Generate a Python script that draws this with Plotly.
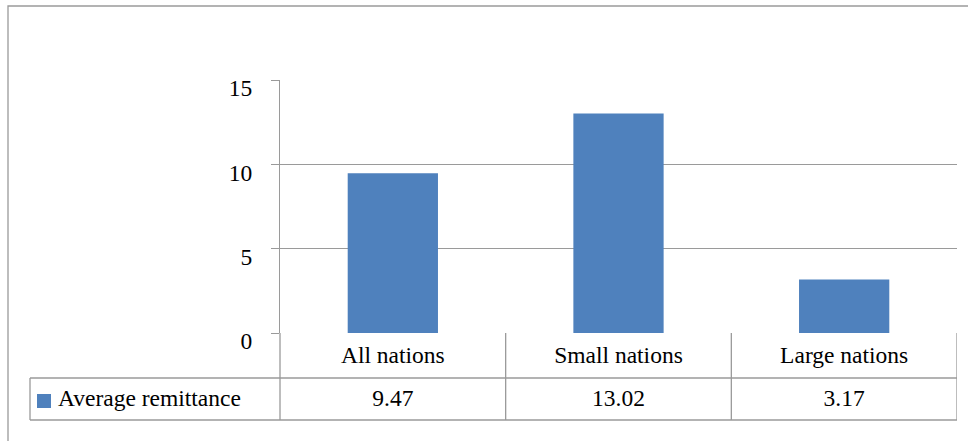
import plotly.graph_objects as go

# Chart data
categories = ["All nations", "Small nations", "Large nations"]
series_name = "Average remittance"
values = [9.47, 13.02, 3.17]
y_ticks = [0, 5, 10, 15]

BAR_COLOR = "#4f81bd"
LINE_COLOR = "#9a9a9a"
FONT = "Liberation Serif"
FS = 23.5

W, H = 968, 441
# plot area of the bar chart, in pixels
PL, PR, PT, PB = 280, 957, 80, 333
Y_MAX = 15
n = len(categories)
cat_w = (PR - PL) / n


def fx(px):
    return px / W


def fy(px):
    return 1 - px / H


fig = go.Figure()
fig.add_trace(go.Bar(x=list(range(n)), y=values, name=series_name,
                     marker=dict(color=BAR_COLOR, line=dict(width=0)),
                     showlegend=False, hoverinfo="skip", xaxis="x", yaxis="y"))

# data table text, drawn on a full-figure pixel axis pair (x2/y2)
tfont = dict(family=FONT, size=FS, color="#000")
centers = [PL + (i + 0.5) * cat_w for i in range(n)]
fig.add_trace(go.Scatter(x=centers, y=[357] * n, text=categories, mode="text",
                         textposition="middle center", textfont=tfont,
                         showlegend=False, hoverinfo="skip", xaxis="x2", yaxis="y2"))
fig.add_trace(go.Scatter(x=centers, y=[400] * n, text=[f"{v:.2f}" for v in values],
                         mode="text", textposition="middle center", textfont=tfont,
                         showlegend=False, hoverinfo="skip", xaxis="x2", yaxis="y2"))
fig.add_trace(go.Scatter(x=[58], y=[400], text=[series_name], mode="text",
                         textposition="middle right", textfont=tfont,
                         showlegend=False, hoverinfo="skip", xaxis="x2", yaxis="y2"))

row1_bottom = fy(378)
row2_bottom = fy(420)
shapes = []
line = dict(color=LINE_COLOR, width=1.3)
# outer chart border
shapes.append(dict(type="rect", xref="paper", yref="paper",
                   x0=fx(8), x1=fx(975), y0=fy(448), y1=fy(6), line=line))
# data table: horizontal rules
shapes.append(dict(type="line", xref="paper", yref="paper",
                   x0=fx(30), x1=fx(PR), y0=row1_bottom, y1=row1_bottom, line=line))
shapes.append(dict(type="line", xref="paper", yref="paper",
                   x0=fx(30), x1=fx(PR), y0=row2_bottom, y1=row2_bottom, line=line))
# legend cell left edge
shapes.append(dict(type="line", xref="paper", yref="paper",
                   x0=fx(30), x1=fx(30), y0=row2_bottom, y1=row1_bottom, line=line))
# axis line continued through the table
shapes.append(dict(type="line", xref="paper", yref="paper",
                   x0=fx(PL), x1=fx(PL), y0=row2_bottom, y1=fy(PB), line=line))
# category boundaries
for b in [0.5, 1.5, 2.5]:
    shapes.append(dict(type="line", xref="x", yref="paper",
                       x0=b, x1=b, y0=row2_bottom, y1=fy(PB), line=line))
# legend key
shapes.append(dict(type="rect", xref="paper", yref="paper",
                   x0=fx(37), x1=fx(51), y0=fy(408), y1=fy(394),
                   fillcolor=BAR_COLOR, line=dict(width=0)))

fig.update_layout(
    width=W, height=H,
    margin=dict(l=0, r=0, t=0, b=0, pad=0, autoexpand=False),
    paper_bgcolor="white", plot_bgcolor="rgba(0,0,0,0)",
    bargap=0.6,
    shapes=shapes,
    font=dict(family=FONT, size=FS, color="#000"),
    xaxis=dict(domain=[fx(PL), fx(PR)], range=[-0.5, n - 0.5], showticklabels=False,
               ticks="", showgrid=False, zeroline=False, showline=False, anchor="y"),
    yaxis=dict(domain=[fy(PB), fy(PT)], range=[0, Y_MAX], tickvals=y_ticks,
               ticktext=[str(t) for t in y_ticks], anchor="x",
               showgrid=True, gridcolor=LINE_COLOR, gridwidth=1.3,
               zeroline=False, showline=True, linecolor=LINE_COLOR, linewidth=1.3,
               ticks="outside", ticklen=8, tickcolor=LINE_COLOR, tickwidth=1.3,
               ticklabelstandoff=14, ticklabelshift=8,
               tickfont=dict(family=FONT, size=FS, color="#000")),
    xaxis2=dict(domain=[0, 1], range=[0, W], visible=False, anchor="y2"),
    yaxis2=dict(domain=[0, 1], range=[H, 0], visible=False, anchor="x2"),
)

fig.write_html("out.html")
